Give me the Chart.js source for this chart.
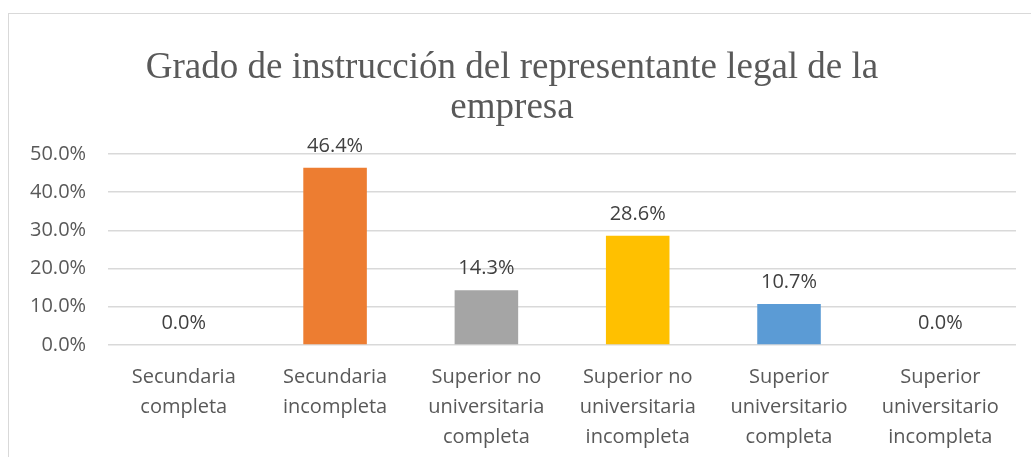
<!DOCTYPE html>
<html>
<head>
<meta charset="utf-8">
<script src="https://cdn.jsdelivr.net/npm/chart.js@4.4.0/dist/chart.umd.min.js"></script>
<style>
  html, body { margin: 0; padding: 0; background: #fff; width: 1031px; height: 457px; overflow: hidden; }
  #frame { position: absolute; left: 8px; top: 13px; width: 1040px; height: 460px; border-left: 1px solid #d9d9d9; border-top: 1px solid #d9d9d9; }
  #wrap { position: absolute; left: 0; top: 0; width: 1031px; height: 457px; }
</style>
</head>
<body>
<div id="frame"></div>
<div id="wrap"><canvas id="c" width="1031" height="457"></canvas></div>
<script>
const titleLines = ["Grado de instrucción del representante legal de la", "empresa"];
const categories = [
  ["Secundaria", "completa"],
  ["Secundaria", "incompleta"],
  ["Superior no", "universitaria", "completa"],
  ["Superior no", "universitaria", "incompleta"],
  ["Superior", "universitario", "completa"],
  ["Superior", "universitario", "incompleta"]
];
const values = [0.0, 46.4, 14.3, 28.6, 10.7, 0.0];
const barColors = ["#ED7D31", "#ED7D31", "#A5A5A5", "#FFC000", "#5B9BD5", "#5B9BD5"];
const yTicks = [0, 10, 20, 30, 40, 50];

const sansFamily = "'Open Sans', 'Liberation Sans', sans-serif";
const labelFont = "20px " + sansFamily;

const valueLabels = {
  id: 'valueLabels',
  afterDatasetsDraw(chart) {
    const ctx = chart.ctx;
    const meta = chart.getDatasetMeta(0);
    ctx.save();
    ctx.font = labelFont;
    ctx.fillStyle = '#404040';
    ctx.textAlign = 'center';
    ctx.textBaseline = 'alphabetic';
    meta.data.forEach((bar, i) => {
      ctx.fillText(values[i].toFixed(1) + '%', bar.x, bar.y - 16);
    });
    ctx.restore();
  }
};

new Chart(document.getElementById('c'), {
  type: 'bar',
  data: {
    labels: categories,
    datasets: [{
      data: values,
      backgroundColor: barColors,
      borderWidth: 0,
      barPercentage: 0.42,
      categoryPercentage: 1.0
    }]
  },
  plugins: [valueLabels],
  options: {
    responsive: false,
    animation: false,
    devicePixelRatio: 1,
    layout: { padding: { left: 8, right: 15, top: 48, bottom: 0 } },
    plugins: {
      legend: { display: false },
      tooltip: { enabled: false },
      title: {
        display: true,
        text: titleLines,
        color: '#595959',
        font: { family: "'Liberation Serif', 'Times New Roman', serif", size: 37, weight: 'normal', lineHeight: 1.08 },
        padding: { top: 0, bottom: 26 }
      }
    },
    scales: {
      x: {
        grid: { display: false, drawTicks: false },
        border: { display: false },
        afterFit(axis) { axis.height = 112; },
        ticks: {
          color: '#595959',
          font: { family: sansFamily, size: 20, lineHeight: 1.5 },
          maxRotation: 0,
          autoSkip: false,
          padding: 17
        }
      },
      y: {
        min: 0,
        max: 50,
        afterBuildTicks(axis) { axis.ticks = yTicks.map(v => ({ value: v })); },
        grid: { color: '#d9d9d9', lineWidth: 1.5, drawTicks: false },
        border: { display: false },
        ticks: {
          color: '#595959',
          font: { family: sansFamily, size: 20 },
          padding: 22,
          callback: v => Number(v).toFixed(1) + '%'
        }
      }
    }
  }
});
</script>
</body>
</html>
